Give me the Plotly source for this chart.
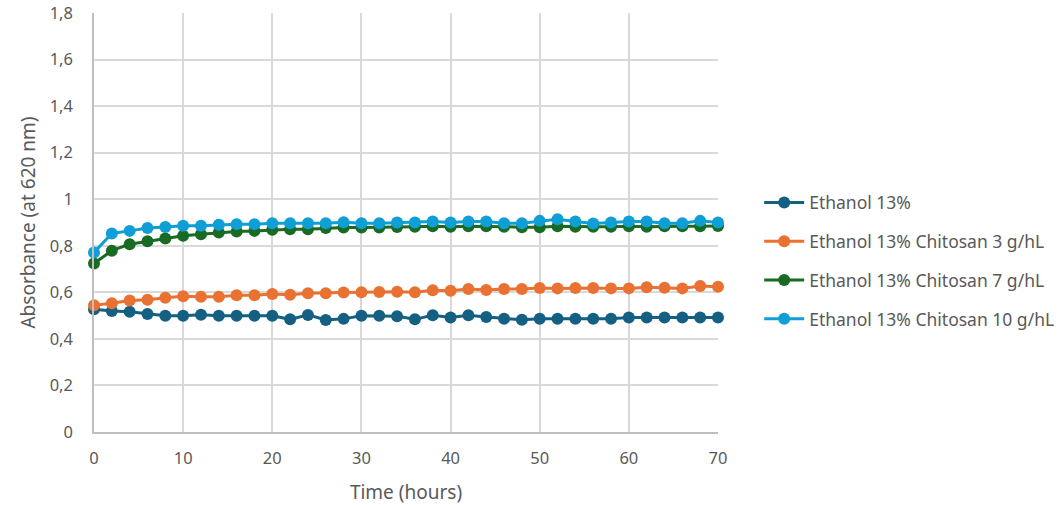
import plotly.graph_objects as go

hours = list(range(0, 72, 2))

ethanol_13 = [0.527, 0.520, 0.517, 0.507, 0.499, 0.499, 0.504, 0.499, 0.499, 0.499,
              0.499, 0.484, 0.503, 0.481, 0.486, 0.499, 0.499, 0.497, 0.484, 0.502,
              0.492, 0.502, 0.494, 0.487, 0.482, 0.487, 0.487, 0.487, 0.487, 0.487,
              0.492, 0.492, 0.492, 0.492, 0.492, 0.492]

chitosan_3 = [0.545, 0.553, 0.565, 0.568, 0.577, 0.583, 0.581, 0.581, 0.587, 0.587,
              0.593, 0.590, 0.596, 0.596, 0.599, 0.600, 0.601, 0.603, 0.600, 0.609,
              0.607, 0.614, 0.610, 0.614, 0.614, 0.619, 0.617, 0.619, 0.619, 0.617,
              0.617, 0.622, 0.620, 0.617, 0.627, 0.624]

chitosan_7 = [0.724, 0.779, 0.807, 0.819, 0.831, 0.843, 0.850, 0.857, 0.861, 0.864,
              0.869, 0.871, 0.871, 0.876, 0.879, 0.879, 0.879, 0.881, 0.882, 0.884,
              0.882, 0.884, 0.884, 0.882, 0.880, 0.880, 0.884, 0.882, 0.882, 0.882,
              0.884, 0.882, 0.884, 0.884, 0.884, 0.885]

chitosan_10 = [0.771, 0.853, 0.864, 0.876, 0.881, 0.886, 0.886, 0.890, 0.893, 0.893,
               0.897, 0.897, 0.897, 0.897, 0.901, 0.897, 0.897, 0.900, 0.900, 0.904,
               0.900, 0.904, 0.904, 0.897, 0.897, 0.907, 0.914, 0.904, 0.896, 0.900,
               0.904, 0.904, 0.897, 0.897, 0.907, 0.900]

names = ["Ethanol 13%", "Ethanol 13% Chitosan 3 g/hL",
         "Ethanol 13% Chitosan 7 g/hL", "Ethanol 13% Chitosan 10 g/hL"]
series = [ethanol_13, chitosan_3, chitosan_7, chitosan_10]
colors = ["#156082", "#E97132", "#196B24", "#0F9ED5"]

y_ticks = [0, 0.2, 0.4, 0.6, 0.8, 1.0, 1.2, 1.4, 1.6, 1.8]
y_tick_text = ["0", "0,2", "0,4", "0,6", "0,8", "1", "1,2", "1,4", "1,6", "1,8"]
x_ticks = [0, 10, 20, 30, 40, 50, 60, 70]

fig = go.Figure()
for name, vals, col in zip(names, series, colors):
    fig.add_trace(go.Scatter(
        x=hours, y=vals, name=name, mode="lines+markers",
        line=dict(color=col, width=3),
        marker=dict(color=col, size=12),
        cliponaxis=False, legendgroup=name,
    ))

txt = "#595959"
fam = "'Noto Sans', 'Open Sans', sans-serif"
fig.update_layout(
    width=1063, height=505,
    margin=dict(l=94, r=345, t=13, b=73, autoexpand=False),
    paper_bgcolor="white", plot_bgcolor="white",
    font=dict(family=fam, size=16.5, color=txt),
    showlegend=True,
    legend=dict(x=1.066, y=0.409, xanchor="left", yanchor="middle",
                font=dict(family=fam, size=17.5, color=txt), tracegroupgap=13,
                itemwidth=40),
    xaxis=dict(range=[0, 70], tickvals=x_ticks, showgrid=True,
               gridcolor="#d9d9d9", gridwidth=1.5, zeroline=False,
               showline=True, linecolor="#bfbfbf", linewidth=1.5,
               ticks="", ticklabelstandoff=10, automargin=False,
               ticklabeloverflow="allow",
               tickfont=dict(size=16.5, color=txt),
               title=dict(text="Time (hours)", standoff=18,
                          font=dict(size=19, color=txt))),
    yaxis=dict(range=[0, 1.8], tickvals=y_ticks, ticktext=y_tick_text,
               showgrid=True, gridcolor="#d9d9d9", gridwidth=1.5,
               zeroline=False, showline=True, linecolor="#bfbfbf",
               linewidth=1.5, ticks="", ticklabelstandoff=16, automargin=False,
               ticklabeloverflow="allow",
               tickfont=dict(size=16.5, color=txt),
               title=dict(text="Absorbance (at 620 nm)", standoff=9,
                          font=dict(size=19, color=txt))),
)

fig.write_html("out.html",
               config={"displayModeBar": False},
               post_script="document.body.style.margin='0px';")
